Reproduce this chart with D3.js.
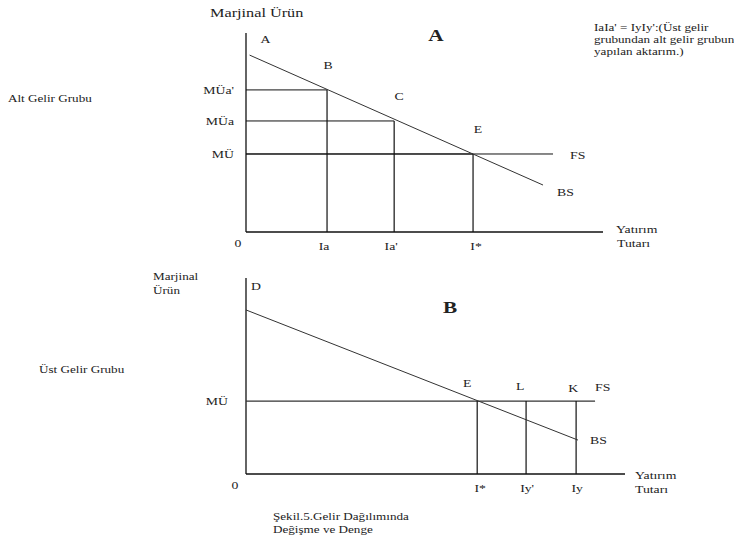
<!DOCTYPE html>
<html>
<head>
<meta charset="utf-8">
<script src="https://cdn.jsdelivr.net/npm/d3@7"></script>
<style>
  html, body { margin: 0; padding: 0; background: #fff; }
  svg { display: block; }
  text { font-family: "Liberation Serif", "Times New Roman", serif; fill: #222; }
</style>
</head>
<body>
<svg id="chart" width="734" height="544"></svg>
<script>
// ---------- Panel A (Alt Gelir Grubu) ----------
const aTickLabels = ["Ia", "Ia'", "I*"];
const aTickValues = [2.27, 4.15, 6.36];
const aLevelLabels = ["MÜa'", "MÜa", "MÜ"];
const aLevelValues = [7.14, 5.58, 3.92];
const aPointLabels = ["B", "C", "E"];
const aCurveX = [0.1, 8.32];
const aCurveY = [8.89, 2.36];
const aFsEnd = 8.6;

// ---------- Panel B (Üst Gelir Grubu) ----------
const bTickLabels = ["I*", "Iy'", "Iy"];
const bTickValues = [6.1, 7.39, 8.71];
const bPointLabels = ["E", "L", "K"];
const bLevelLabel = "MÜ";
const bLevelValue = 3.72;
const bCurveX = [0, 8.76];
const bCurveY = [8.37, 1.73];
const bFsEnd = 9.21;

const SX = 1.25; // horizontal stretch of the original scan's lettering
const svg = d3.select("#chart");

function label(str, x, y, opts = {}) {
  const t = svg.append("text")
    .attr("transform", `translate(${x},${y}) scale(${SX},1)`)
    .attr("text-anchor", opts.anchor || "start")
    .style("font-size", (opts.size || 11) + "px")
    .text(str);
  if (opts.bold) t.style("font-weight", "bold");
  return t;
}
function line(x1, y1, x2, y2, w = 1, c = "#111") {
  svg.append("line").attr("x1", x1).attr("y1", y1).attr("x2", x2).attr("y2", y2)
    .attr("stroke", c).attr("stroke-width", w);
}

// ===== Panel A =====
const xA = d3.scaleLinear().domain([0, 10]).range([246, 603]);
const yA = d3.scaleLinear().domain([0, 10]).range([232, 33]);

// axes
line(xA(0), yA(10), xA(0), yA(0), 1.3);
line(xA(0), yA(0), xA(10), yA(0), 1.3);

// guide lines
aTickValues.forEach((v, i) => {
  line(xA(0), yA(aLevelValues[i]), xA(v), yA(aLevelValues[i]));
  line(xA(v), yA(aLevelValues[i]), xA(v), yA(0), 1.2);
});
// FS line
line(xA(0), yA(aLevelValues[2]), xA(aFsEnd), yA(aLevelValues[2]));
// BS line
line(xA(aCurveX[0]), yA(aCurveY[0]), xA(aCurveX[1]), yA(aCurveY[1]), 1, "#333");

// labels A
label("Marjinal Ürün", 210, 17, { size: 13 });
label("A", 436, 41, { size: 17, bold: true, anchor: "middle" });
label("IaIa' = IyIy':(Üst gelir", 594, 31, { size: 10.5 });
label("grubundan alt gelir grubuna", 594, 43, { size: 10.5 });
label("yapılan aktarım.)", 594, 55, { size: 10.5 });
label("Alt Gelir  Grubu", 8, 102, { size: 10.5 });

label("A", xA(aCurveX[0]) + 16, yA(aCurveY[0]) - 12, { anchor: "middle" });
aPointLabels.forEach((s, i) => {
  label(s, xA(aTickValues[i]) + (i === 0 ? 1 : 5), yA(aLevelValues[i]) - 21, { anchor: "middle" });
});
label("FS", xA(aFsEnd) + 17, yA(aLevelValues[2]) + 5);
label("BS", xA(aCurveX[1]) + 14, yA(aCurveY[1]) + 11);
aLevelLabels.forEach((s, i) => {
  label(s, xA(0) - 12, yA(aLevelValues[i]) + 4, { anchor: "end" });
});
label("0", xA(0) - 8, yA(0) + 15, { anchor: "middle" });
aTickLabels.forEach((s, i) => {
  label(s, xA(aTickValues[i]) - (i === 2 ? -3 : 3), yA(0) + 18, { anchor: "middle" });
});
label("Yatırım", xA(10) + 13, yA(0) + 1);
label("Tutarı", xA(10) + 14, yA(0) + 15);

// ===== Panel B =====
const xB = d3.scaleLinear().domain([0, 10]).range([246, 625]);
const yB = d3.scaleLinear().domain([0, 10]).range([474, 278]);

line(xB(0), yB(10), xB(0), yB(0), 1.3);
line(xB(0), yB(0), xB(10), yB(0), 1.3);

// FS line
line(xB(0), yB(bLevelValue), xB(bFsEnd), yB(bLevelValue), 1.2, "#333");
// verticals
bTickValues.forEach(v => line(xB(v), yB(bLevelValue), xB(v), yB(0), 1.2));
// BS line
line(xB(bCurveX[0]), yB(bCurveY[0]), xB(bCurveX[1]), yB(bCurveY[1]), 1, "#333");

label("Marjinal", 153, 280, { size: 10.5 });
label("Ürün", 153, 294, { size: 10.5 });
label("Üst Gelir Grubu", 39, 373, { size: 10.5 });
label("D", xB(0) + 10, yB(10) + 12, { anchor: "middle" });
label("B", 450, 313, { size: 17, bold: true, anchor: "middle" });
const bOff = [-10, -6, -3];
const bUp = [-14, -11, -9];
bPointLabels.forEach((s, i) => {
  label(s, xB(bTickValues[i]) + bOff[i], yB(bLevelValue) + bUp[i], { anchor: "middle" });
});
label("FS", xB(bFsEnd), yB(bLevelValue) - 10);
label("BS", xB(bCurveX[1]) + 12, yB(bCurveY[1]) + 4);
label(bLevelLabel, xB(0) - 18, yB(bLevelValue) + 4, { anchor: "end" });
label("0", xB(0) - 11, yB(0) + 15, { anchor: "middle" });
const bTickOff = [3, 1, 1];
bTickLabels.forEach((s, i) => {
  label(s, xB(bTickValues[i]) + bTickOff[i], yB(0) + 18, { anchor: "middle" });
});
label("Yatırım", xB(10) + 10, yB(0) + 5);
label("Tutarı", xB(10) + 10, yB(0) + 19);

label("Şekil.5.Gelir Dağılımında", 273, 520, { size: 10.5 });
label("Değişme ve Denge", 273, 533, { size: 10.5 });
</script>
</body>
</html>
